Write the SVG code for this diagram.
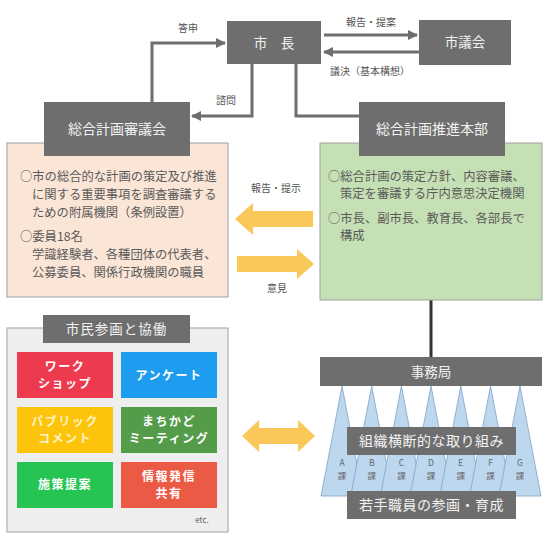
<svg xmlns="http://www.w3.org/2000/svg" width="550" height="541" viewBox="0 0 550 541">
<defs>
<style>
text{font-family:"Noto Sans CJK JP","Noto Sans",sans-serif;}
.dk{fill:#6e6e6e;}
.wt{fill:#f2f2f2;text-anchor:middle;}
.lbl{fill:#555;font-size:10px;text-anchor:middle;}
.body{fill:#5a5a5a;font-size:12.3px;}
.con{fill:none;stroke:#6e6e6e;stroke-width:3;}
.yl{fill:#f9c859;}
.cb{font-size:12px;font-weight:bold;fill:#fff;text-anchor:middle;letter-spacing:1.5px;}
.tri{fill:#bdd7ee;stroke:#7fa3c8;stroke-width:0.8;}
.ka{font-size:8.5px;fill:#666;text-anchor:middle;}
</style>
<marker id="ah" viewBox="0 0 10 10" refX="9" refY="5" markerWidth="3.4" markerHeight="3.4" orient="auto" markerUnits="strokeWidth">
<path d="M0,0 L10,5 L0,10 z" fill="#6e6e6e"/>
</marker>
</defs>
<rect width="550" height="541" fill="#fff"/>

<g id="connectors">
<polyline class="con" points="152,102 152,43 225,43" marker-end="url(#ah)"/>
<polyline class="con" points="252,64 252,116 192,116" marker-end="url(#ah)"/>
<polyline class="con" points="296,64 296,116 359,116"/>
<line class="con" x1="324" y1="35" x2="417" y2="35" marker-end="url(#ah)"/>
<line class="con" x1="419" y1="52" x2="324" y2="52" marker-end="url(#ah)"/>
<line x1="431" y1="300" x2="431" y2="357" stroke="#333" stroke-width="3"/>
<polygon class="yl" points="235,219 253,203 253,211 313,211 313,227 253,227 253,235"/>
<polygon class="yl" points="314,264 297,249 297,256 237,256 237,272 297,272 297,279"/>
<polygon class="yl" points="242,436 259,420 259,428 298,428 298,420 315,436 298,452 298,444 259,444 259,452"/>
</g>

<g id="labels">
<text class="lbl" x="188" y="32">答申</text>
<text class="lbl" x="226" y="104">諮問</text>
<text class="lbl" x="371" y="26">報告・提案</text>
<text class="lbl" x="370" y="75">議決（基本構想）</text>
<text class="lbl" x="276" y="192">報告・提示</text>
<text class="lbl" x="277" y="292">意見</text>
</g>

<g id="mayor">
<rect class="dk" x="227" y="21" width="94" height="43"/>
<text class="wt" x="274" y="47.5" font-size="13.5">市　長</text>
</g>
<g id="council">
<rect class="dk" x="419" y="20" width="92" height="45"/>
<text class="wt" x="465" y="47" font-size="13.5">市議会</text>
</g>

<g id="shingikai">
<rect x="7" y="143" width="221" height="154" fill="#fbe5d6" stroke="#a0a0a0" stroke-width="1"/>
<rect class="dk" x="44" y="102" width="146" height="54"/>
<text class="wt" x="117" y="134" font-size="14">総合計画審議会</text>
<text class="body" x="20" y="181">○市の総合的な計画の策定及び推進</text>
<text class="body" x="32" y="199">に関する重要事項を調査審議する</text>
<text class="body" x="32" y="217">ための附属機関（条例設置）</text>
<text class="body" x="20" y="241">○委員18名</text>
<text class="body" x="32" y="259">学識経験者、各種団体の代表者、</text>
<text class="body" x="32" y="277">公募委員、関係行政機関の職員</text>
</g>

<g id="honbu">
<rect x="320" y="143" width="222" height="157" fill="#c5e0b4" stroke="#a0a0a0" stroke-width="1"/>
<rect class="dk" x="359" y="102" width="146" height="54"/>
<text class="wt" x="432" y="134" font-size="14">総合計画推進本部</text>
<text class="body" x="328" y="181">○総合計画の策定方針、内容審議、</text>
<text class="body" x="340" y="198">策定を審議する庁内意思決定機関</text>
<text class="body" x="328" y="223">○市長、副市長、教育長、各部長で</text>
<text class="body" x="340" y="240">構成</text>
</g>

<g id="shimin">
<rect x="7" y="328" width="221" height="204" fill="#eeeeee" stroke="#a0a0a0" stroke-width="1"/>
<rect class="dk" x="43" y="315" width="147" height="28"/>
<text class="wt" x="116.5" y="334" font-size="13.5" letter-spacing="1">市民参画と協働</text>
<rect x="17" y="352" width="96" height="46" fill="#ee3a4e"/>
<text class="cb" x="65" y="371">ワーク</text>
<text class="cb" x="65" y="388">ショップ</text>
<rect x="121" y="352" width="96" height="46" fill="#1e9cf0"/>
<text class="cb" x="169" y="380">アンケート</text>
<rect x="17" y="407" width="96" height="46" fill="#fdc40c"/>
<text class="cb" x="65" y="426" style="fill:#fff3c8">パブリック</text>
<text class="cb" x="65" y="443" style="fill:#fff3c8">コメント</text>
<rect x="121" y="407" width="96" height="46" fill="#549c4a"/>
<text class="cb" x="169" y="426">まちかど</text>
<text class="cb" x="169" y="443">ミーティング</text>
<rect x="17" y="462" width="96" height="46" fill="#25c453"/>
<text class="cb" x="65" y="489">施策提案</text>
<rect x="121" y="462" width="96" height="46" fill="#eb5a44"/>
<text class="cb" x="169" y="481">情報発信</text>
<text class="cb" x="169" y="498">共有</text>
<text x="202" y="523" font-size="8" fill="#555" font-family="Liberation Sans,sans-serif" text-anchor="middle">etc.</text>
</g>

<g id="jimukyoku">
<polygon class="tri" points="342,386 321,496 363,496"/>
<polygon class="tri" points="371.7,386 350.7,496 392.7,496"/>
<polygon class="tri" points="401.4,386 380.4,496 422.4,496"/>
<polygon class="tri" points="431,386 410,496 452,496"/>
<polygon class="tri" points="460.8,386 439.8,496 481.8,496"/>
<polygon class="tri" points="490.5,386 469.5,496 511.5,496"/>
<polygon class="tri" points="520,386 499,496 541,496"/>
<rect class="dk" x="320" y="357" width="222" height="29"/>
<text class="wt" x="431" y="376.5" font-size="13.5">事務局</text>
<rect class="dk" x="347" y="427" width="169" height="28"/>
<text class="wt" x="431.5" y="446" font-size="14" letter-spacing="0.5">組織横断的な取り組み</text>
<text class="ka" x="342" y="466">A</text><text class="ka" x="342" y="479">課</text>
<text class="ka" x="371.7" y="466">B</text><text class="ka" x="371.7" y="479">課</text>
<text class="ka" x="401.4" y="466">C</text><text class="ka" x="401.4" y="479">課</text>
<text class="ka" x="431" y="466">D</text><text class="ka" x="431" y="479">課</text>
<text class="ka" x="460.8" y="466">E</text><text class="ka" x="460.8" y="479">課</text>
<text class="ka" x="490.5" y="466">F</text><text class="ka" x="490.5" y="479">課</text>
<text class="ka" x="520" y="466">G</text><text class="ka" x="520" y="479">課</text>
<rect class="dk" x="347" y="491" width="169" height="28"/>
<text class="wt" x="431.5" y="510" font-size="14" letter-spacing="0.5">若手職員の参画・育成</text>
</g>
</svg>
